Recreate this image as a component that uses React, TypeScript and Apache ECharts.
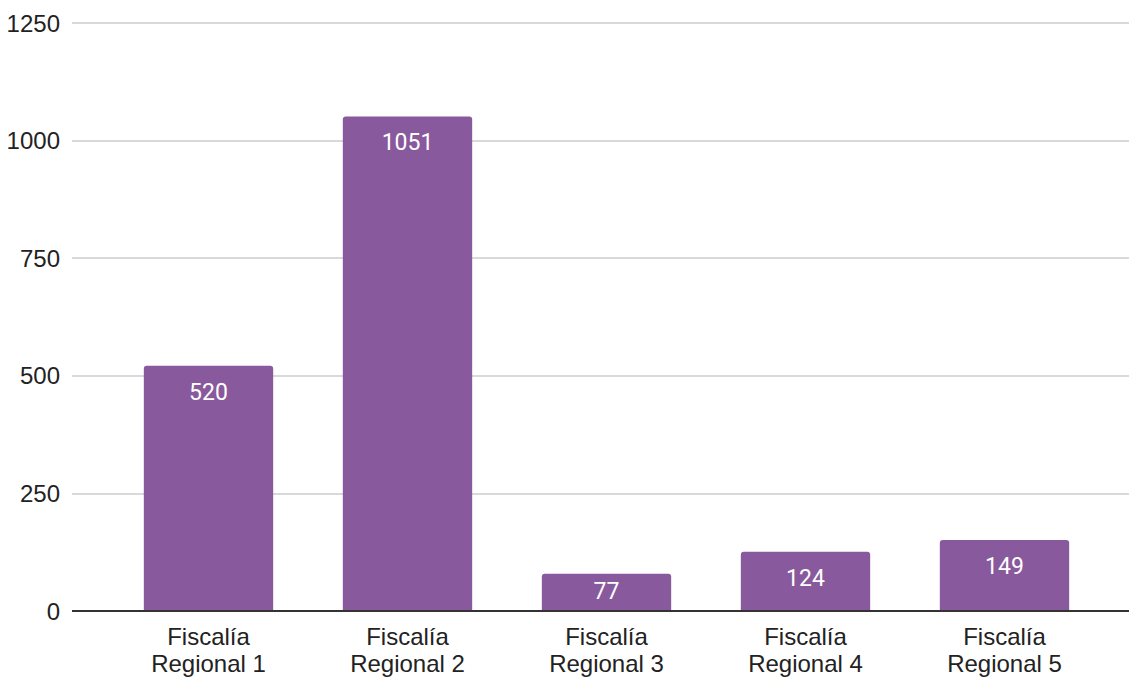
import React, { useEffect, useRef } from "react";
import * as echarts from "echarts";

const categories = ["Fiscalía\nRegional 1", "Fiscalía\nRegional 2", "Fiscalía\nRegional 3", "Fiscalía\nRegional 4", "Fiscalía\nRegional 5"];
const values = [520, 1051, 77, 124, 149];
const yMin = 0;
const yMax = 1250;
const yInterval = 250;

export default function App() {
  const ref = useRef<HTMLDivElement>(null);
  useEffect(() => {
    if (!ref.current) return;
    const chart = echarts.init(ref.current, undefined, { renderer: "svg" });
    const barData = values.map((v) =>
      v < 100 ? { value: v, label: { position: "inside" } } : v
    );
    chart.setOption({
      animation: false,
      backgroundColor: "#ffffff",
      grid: [
        { left: 72, right: 0, top: 23, bottom: 66, containLabel: false },
        { left: 109, right: 25, top: 23, bottom: 66, containLabel: false },
      ],
      xAxis: [
        {
          gridIndex: 0,
          type: "value",
          min: 0,
          max: 1,
          show: false,
        },
        {
          gridIndex: 1,
          type: "category",
          data: categories,
          axisTick: { show: false },
          axisLine: { show: false },
          axisLabel: {
            color: "#222222",
            fontSize: 24,
            fontFamily: "Liberation Sans, Arial, sans-serif",
            lineHeight: 27,
            margin: 13,
            interval: 0,
          },
        },
      ],
      yAxis: [
        {
          gridIndex: 0,
          type: "value",
          min: yMin,
          max: yMax,
          interval: yInterval,
          axisLine: { show: false },
          axisTick: { show: false },
          axisLabel: {
            color: "#222222",
            fontSize: 24,
            fontFamily: "Liberation Sans, Arial, sans-serif",
            margin: 12,
            formatter: (v: number) => String(v),
          },
          splitLine: { lineStyle: { color: "#cccccc", width: 1.5 } },
        },
        {
          gridIndex: 1,
          type: "value",
          min: yMin,
          max: yMax,
          interval: yInterval,
          show: false,
          splitLine: { show: false },
        },
      ],
      series: [
        {
          type: "line",
          xAxisIndex: 0,
          yAxisIndex: 0,
          data: [[0, 0], [1, 0]],
          symbol: "none",
          lineStyle: { color: "#333333", width: 2 },
          z: 5,
          silent: true,
        },
        {
          type: "bar",
          xAxisIndex: 1,
          yAxisIndex: 1,
          data: barData,
          barWidth: "65%",
          itemStyle: { color: "#89599d", borderRadius: [3, 3, 0, 0] },
          label: {
            show: true,
            position: "insideTop",
            distance: 15,
            color: "#ffffff",
            fontSize: 23,
            fontFamily: "Roboto, sans-serif",
          },
          z: 2,
        },
      ],
    });
    return () => chart.dispose();
  }, []);
  return <div ref={ref} style={{ width: 1129, height: 677, position: "absolute", left: 0, top: 0 }} />;
}
